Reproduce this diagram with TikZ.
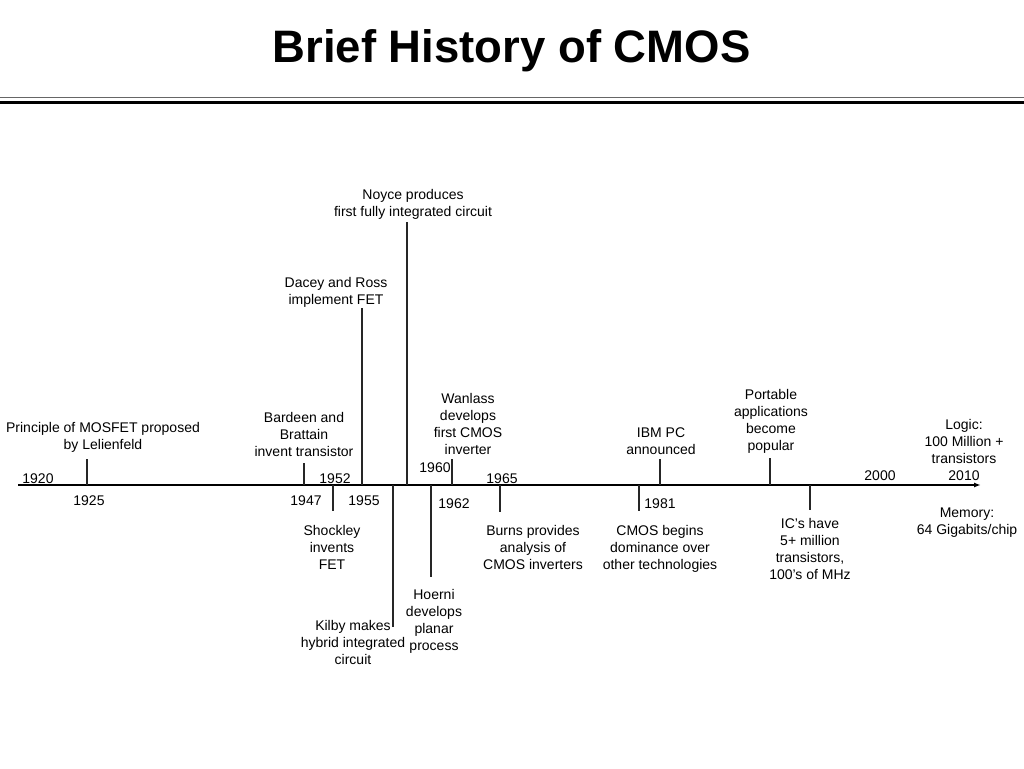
\documentclass[tikz,border=0pt]{standalone}
\usepackage{fontspec}
\setmainfont{Liberation Sans}
\usetikzlibrary{arrows.meta}
\begin{document}
\begin{tikzpicture}[x=1pt,y=-1pt,
  lbl/.style={inner sep=0pt,align=center,font=\fontsize{14}{17}\selectfont},
  tick/.style={line width=1.5pt,black!85},
  rule/.style={line width=#1,black}]
\useasboundingbox (0,0) rectangle (1024,768);
% title
\node[anchor=base,inner sep=0pt,font=\fontsize{45.5}{50}\selectfont\bfseries] (title) at (511.5,63) {Brief History of CMOS};
% header rules
\coordinate (rl1) at (0,97.5); \coordinate (rr1) at (1024,97.5);
\coordinate (rl2) at (0,102.3); \coordinate (rr2) at (1024,102.3);
\draw[line width=1pt,black!60] (rl1) -- (rr1);
\draw[line width=3.6pt,black] (rl2) -- (rr2);
% axis
\coordinate (axL) at (18,485); \coordinate (axR) at (981,485);
\draw[line width=1.5pt,-{Latex[length=7pt,width=5pt]}] (axL) -- (axR);
% tick ends
\coordinate (a1925) at (87,485);  \coordinate (e1925) at (87,459);
\coordinate (a1947) at (304,485); \coordinate (e1947) at (304,463);
\coordinate (a1952) at (333,485); \coordinate (e1952) at (333,511);
\coordinate (a1955) at (362,485); \coordinate (e1955) at (362,308);
\coordinate (aNoy)  at (407,485); \coordinate (eNoy)  at (407,222);
\coordinate (aKil)  at (393,485); \coordinate (eKil)  at (393,627);
\coordinate (aHoe)  at (431,485); \coordinate (eHoe)  at (431,577);
\coordinate (aWan)  at (452,485); \coordinate (eWan)  at (452,459);
\coordinate (aBur)  at (500,485); \coordinate (eBur)  at (500,512);
\coordinate (a1981) at (639,485); \coordinate (e1981) at (639,511);
\coordinate (aIBM)  at (660,485); \coordinate (eIBM)  at (660,459);
\coordinate (aPor)  at (770,485); \coordinate (ePor)  at (770,458);
\coordinate (aIC)   at (810,485); \coordinate (eIC)   at (810,510);
\foreach \t in {1925,1947,1952,1955,Noy,Kil,Hoe,Wan,Bur,1981,IBM,Por,IC}
  \draw[tick] (a\t) -- (e\t);
% year labels
\node[lbl] (y1920) at (38,479) {1920};
\node[lbl] (y1952) at (335,479) {1952};
\node[lbl] (y1960) at (435,468) {1960};
\node[lbl] (y1965) at (502,479) {1965};
\node[lbl] (y2000) at (880,476) {2000};
\node[lbl] (y1925) at (89,501) {1925};
\node[lbl] (y1947) at (306,501) {1947};
\node[lbl] (y1955) at (364,501) {1955};
\node[lbl] (y1962) at (454,504) {1962};
\node[lbl] (y1981) at (660,504) {1981};
% event labels above
\node[lbl] (princ) at (103,437.5) {Principle of MOSFET proposed\\by Lelienfeld};
\node[lbl] (bard) at (304,434) {Bardeen and\\Brattain\\invent transistor};
\node[lbl] (wan) at (468,423.5) {Wanlass\\develops\\first CMOS\\inverter};
\node[lbl] (noyce) at (413,204) {Noyce produces\\first fully integrated circuit};
\node[lbl] (dacey) at (336,292) {Dacey and Ross\\implement FET};
\node[lbl] (ibm) at (661,441) {IBM PC\\announced};
\node[lbl] (port) at (771,421) {Portable\\applications\\become\\popular};
\node[lbl] (logic) at (964,450) {Logic:\\100 Million +\\transistors\\2010};
% event labels below
\node[lbl] (shock) at (332,547) {Shockley\\invents\\FET};
\node[lbl] (burns) at (533,547) {Burns provides\\analysis of\\CMOS inverters};
\node[lbl] (cmos) at (660,549) {CMOS begins\\dominance over\\other technologies};
\node[lbl] (ics) at (810,549) {IC’s have\\5+ million\\transistors,\\100’s of MHz};
\node[lbl] (mem) at (967,523) {Memory:\\64 Gigabits/chip};
\node[lbl] (hoerni) at (434,621.5) {Hoerni\\develops\\planar\\process};
\node[lbl] (kilby) at (353,642) {Kilby makes\\hybrid integrated\\circuit};
\end{tikzpicture}
\end{document}
